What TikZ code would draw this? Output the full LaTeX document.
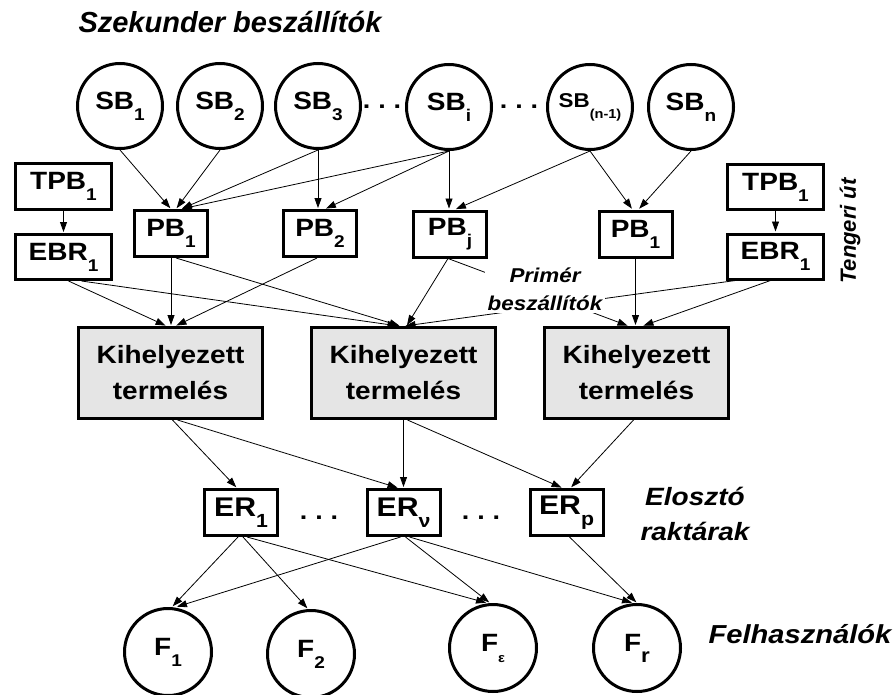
\documentclass[tikz,border=0pt]{standalone}
\usepackage{fontspec}
\setmainfont{Liberation Sans}[FakeStretch=1.12]
\newfontfamily\plainsans{Liberation Sans}
\usetikzlibrary{arrows.meta}
\newcommand\subx[2][17]{\raisebox{-11pt}{\fontsize{#1}{#1}\selectfont #2}}
\begin{document}
\begin{tikzpicture}[x=1pt,y=-1pt,
  circ/.style={circle,draw,line width=3pt,minimum size=85pt,inner sep=0pt,font=\fontsize{25}{30}\selectfont\bfseries},
  fcirc/.style={circ,minimum size=87pt},
  boxn/.style={rectangle,draw,line width=3pt,inner sep=0pt,minimum width=73pt,minimum height=46pt,font=\fontsize{25}{30}\selectfont\bfseries},
  wbox/.style={boxn,minimum width=96pt,minimum height=45pt},
  prod/.style={rectangle,draw,line width=3pt,fill=black!10,minimum width=184pt,minimum height=91pt,inner sep=0pt,align=center,font=\fontsize{25}{36}\selectfont\bfseries},
  conn/.style={line width=0.8pt,shorten >=1pt,-{Triangle[length=10pt,width=7pt]}},
  lbl/.style={font=\fontsize{25}{35}\selectfont\bfseries\itshape,align=center},
  dotsn/.style={font=\fontsize{24}{24}\selectfont\bfseries,inner sep=0pt}
]
\useasboundingbox (0,0) rectangle (896,695);

% title
\node[anchor=base,font=\plainsans\fontsize{29}{32}\selectfont\bfseries\itshape] (title) at (230,33) {Szekunder beszállítók};

% secondary suppliers
\node[circ] (SB1) at (120,106) {SB\subx{1}};
\node[circ] (SB2) at (220,106) {SB\subx{2}};
\node[circ] (SB3) at (318,106) {SB\subx{3}};
\node[circ] (SBi) at (449,107) {SB\subx{i}};
\node[circ,font=\fontsize{20}{24}\selectfont\bfseries] (SBn1) at (590,107) {SB\subx[13]{(n-1)}};
\node[circ] (SBn) at (691,107) {SB\subx{n}};
\node[dotsn] (d1) at (382,107) {.\,\,.\,\,.};
\node[dotsn] (d2) at (519,107) {.\,\,.\,\,.};

% sea route
\node[wbox] (TPBL) at (63.5,186.5) {TPB\subx{1}};
\node[wbox] (EBRL) at (63.5,257) {EBR\subx{1}};
\node[wbox] (TPBR) at (775.5,187) {TPB\subx{1}};
\node[wbox] (EBRR) at (775.5,256.5) {EBR\subx{1}};
\node[rotate=90,font=\plainsans\fontsize{22}{26}\selectfont\bfseries\itshape] (tengeri) at (850,231) {Tengeri út};

% primary suppliers
\node[boxn] (PB1) at (171,233.5) {PB\subx{1}};
\node[boxn] (PB2) at (320,233.5) {PB\subx{2}};
\node[boxn] (PBj) at (450,234) {PB\subx{j}};
\node[boxn] (PBR) at (635.5,234) {PB\subx{1}};

% production
\node[prod] (K1) at (170.5,373) {Kihelyezett\\termelés};
\node[prod] (K2) at (403.5,373) {Kihelyezett\\termelés};
\node[prod] (K3) at (636.5,373) {Kihelyezett\\termelés};

% distribution warehouses
\node[boxn,font=\fontsize{27}{30}\selectfont\bfseries] (ER1) at (241,512.5) {ER\subx[19]{1}};
\node[boxn,font=\fontsize{27}{30}\selectfont\bfseries] (ERv) at (403.5,512.5) {ER\subx[19]{ν}};
\node[boxn,font=\fontsize{27}{30}\selectfont\bfseries] (ERp) at (566.5,512.5) {ER\subx[19]{p}};
\node[dotsn] (d3) at (319,518) {.\,\,.\,\,.};
\node[dotsn] (d4) at (481,518) {.\,\,.\,\,.};
\node[lbl] (eloszto) at (695,514) {Elosztó\\raktárak};

% users
\node[fcirc] (F1) at (168,652) {F\subx{1}};
\node[fcirc] (F2) at (311,654) {F\subx{2}};
\node[fcirc] (Fe) at (493,648) {F\subx[13]{ε}};
\node[fcirc] (Fr) at (637,648) {F\subx[20]{r}};
\node[anchor=base west,font=\fontsize{26}{30}\selectfont\bfseries\itshape] (felh) at (705,643) {Felhasználók};

% connectors: secondary -> primary
\draw[conn] (SB1.south) -- (PB1.north);
\draw[conn] (SB2.south) -- ([xshift=5pt]PB1.north);
\draw[conn] (SB3.south) -- ([xshift=10pt]PB1.north);
\draw[conn] (SBi.south) -- ([xshift=10pt]PB1.north);
\draw[conn] (SB3.south) -- (SB3.south |- PB2.north);
\draw[conn] (SBi.south) -- ([xshift=5pt]PB2.north);
\draw[conn] (SBi.south) -- (SBi.south |- PBj.north);
\draw[conn] (SBn1.south) -- ([xshift=5pt]PBj.north);
\draw[conn] (SBn1.south) -- ([xshift=-3pt]PBR.north);
\draw[conn] (SBn.south) -- ([xshift=3pt]PBR.north);

% sea route
\draw[conn] (TPBL) -- (EBRL);
\draw[conn] (TPBR) -- (EBRR);

% -> production
\draw[conn] ([xshift=5pt]EBRL.south) -- ([xshift=-4pt]K1.north);
\draw[conn] ([xshift=18pt]EBRL.south) -- ([xshift=-5pt]K2.north);
\draw[conn] (PB1.south) -- (PB1.south |- K1.north);
\draw[conn] ([xshift=5pt]PB1.south) -- ([xshift=-3pt]K2.north);
\draw[conn] ([xshift=-3pt]PB2.south) -- ([xshift=5pt]K1.north);
\draw[conn] ([xshift=-2pt]PBj.south) -- ([xshift=3pt]K2.north);
\draw[conn] ([xshift=-2pt]PBj.south) -- ([xshift=-8pt]K3.north);
\draw[conn] (PBR.south) -- (PBR.south |- K3.north);
\draw[conn] ([xshift=-40pt]EBRR.south) -- ([xshift=1pt]K2.north);
\draw[conn] ([xshift=-5pt]EBRR.south) -- ([xshift=6pt]K3.north);

% production -> warehouses
\draw[conn] ([xshift=2pt]K1.south) -- ([xshift=-4pt]ER1.north);
\draw[conn] ([xshift=7pt]K1.south) -- ([xshift=-5pt]ERv.north);
\draw[conn] (K2.south) -- (K2.south |- ERv.north);
\draw[conn] ([xshift=4pt]K2.south) -- ([xshift=-4pt]ERp.north);
\draw[conn] ([xshift=-3pt]K3.south) -- ([xshift=4pt]ERp.north);

% warehouses -> users
\draw[conn] ([xshift=-3pt]ER1.south) -- ([xshift=4pt]F1.north);
\draw[conn] ([xshift=2pt]ER1.south) -- ([xshift=-3pt]F2.north);
\draw[conn] ([xshift=6pt]ER1.south) -- ([xshift=-6pt]Fe.north);
\draw[conn] ([xshift=-3pt]ERv.south) -- ([xshift=8pt]F1.north);
\draw[conn] ([xshift=2pt]ERv.south) -- ([xshift=-3pt]Fe.north);
\draw[conn] ([xshift=6pt]ERv.south) -- ([xshift=-4pt]Fr.north);
\draw[conn] ([xshift=3pt]ERp.south) -- (Fr.north);

% label over the lines
\node[fill=white,inner sep=3pt,align=center,font=\fontsize{20}{28}\selectfont\bfseries\itshape] (primer) at (545,289) {Primér\\beszállítók};
\end{tikzpicture}
\end{document}
